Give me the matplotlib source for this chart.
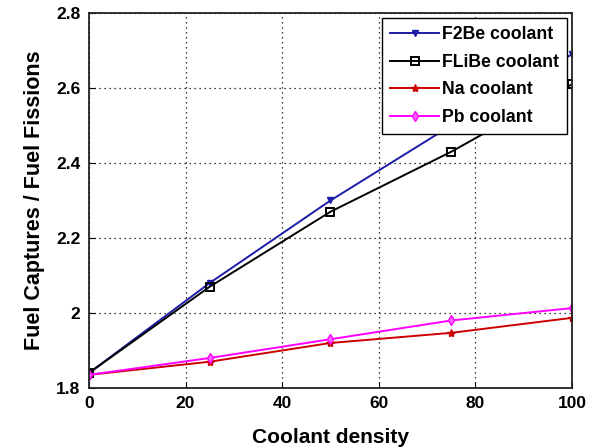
import matplotlib
matplotlib.use("Agg")
import matplotlib.pyplot as plt

density = [0, 25, 50, 75, 100]
f2be = [1.84, 2.08, 2.30, 2.50, 2.69]
flibe = [1.84, 2.07, 2.27, 2.43, 2.61]
na = [1.835, 1.87, 1.92, 1.947, 1.987]
pb = [1.835, 1.88, 1.93, 1.98, 2.013]

xticks = [0, 20, 40, 60, 80, 100]
yticks = [1.8, 2.0, 2.2, 2.4, 2.6, 2.8]
yticklabels = ["1.8", "2", "2.2", "2.4", "2.6", "2.8"]

plt.rcParams['font.family'] = ['Liberation Sans', 'DejaVu Sans']
plt.rcParams['font.weight'] = 'bold'

fig = plt.figure(figsize=(5.93, 4.48), dpi=100)
ax = fig.add_axes([0.150, 0.134, 0.8146, 0.837])

ax.plot(density, f2be, color='#1c1ca8', marker='v', markersize=5, lw=1.4,
        markerfacecolor='#1c1ca8', label='F2Be coolant')
ax.plot(density, flibe, color='black', marker='s', markersize=6, lw=1.4,
        markerfacecolor='none', markeredgewidth=1.4, label='FLiBe coolant')
ax.plot(density, na, color='#cc0000', marker='*', markersize=6, lw=1.4,
        label='Na coolant')
ax.plot(density, pb, color='#ff00ff', marker='d', markersize=5, lw=1.4,
        markerfacecolor='#ff66ff', label='Pb coolant')

ax.set_xlim(0, 100)
ax.set_ylim(1.8, 2.8)
ax.set_xticks(xticks)
ax.set_yticks(yticks)
ax.set_yticklabels(yticklabels)
ax.tick_params(direction='in', labelsize=12.5, length=4, pad=6)
for lab in ax.get_xticklabels() + ax.get_yticklabels():
    lab.set_fontweight('bold')
ax.grid(True, color='black', linestyle=(0, (1, 3)), linewidth=0.9)
for sp in ax.spines.values():
    sp.set_linewidth(1.3)
    sp.set_color('#222222')

ax.set_xlabel('Coolant density', fontsize=15, fontweight='bold', labelpad=12)
ax.set_ylabel('Fuel Captures / Fuel Fissions', fontsize=15.5, fontweight='bold', labelpad=8)

leg = ax.legend(loc='upper right', fontsize=12.7, frameon=True, fancybox=False,
                edgecolor='black', framealpha=1, borderpad=0.45,
                handlelength=2.8, handletextpad=0.15, labelspacing=0.6,
                borderaxespad=0.3)
leg.get_frame().set_linewidth(1.0)
for t in leg.get_texts():
    t.set_fontweight('bold')

fig.savefig('out.png', dpi=100)
